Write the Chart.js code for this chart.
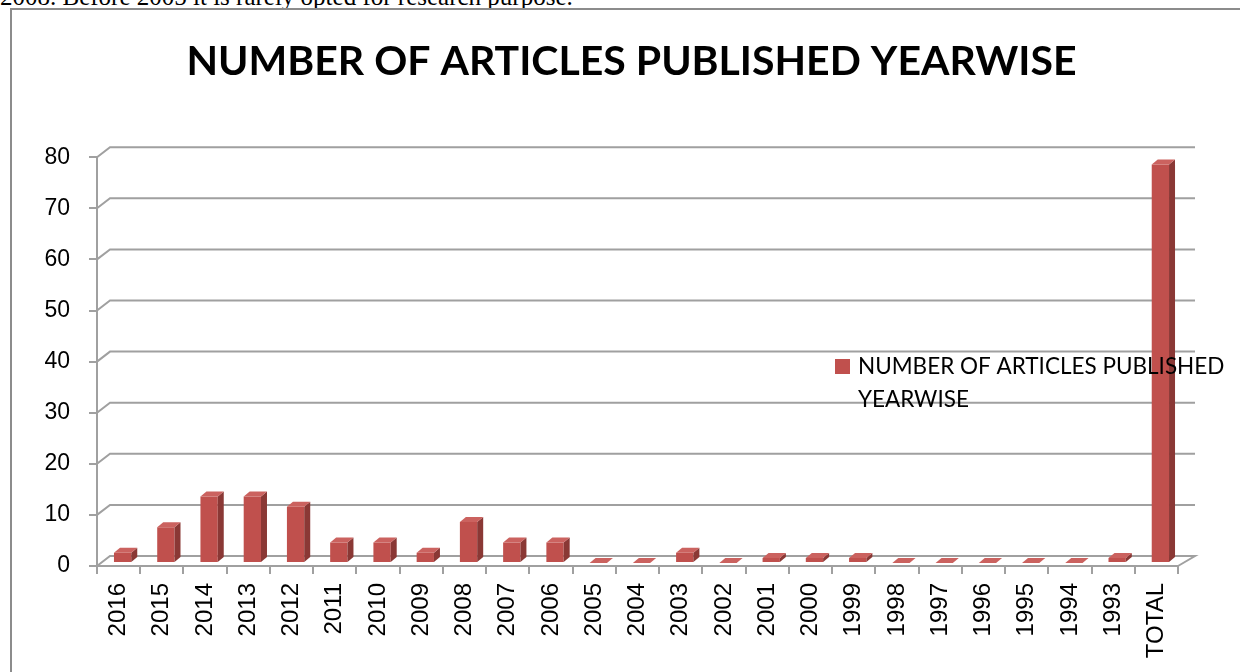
<!DOCTYPE html>
<html>
<head>
<meta charset="utf-8">
<script src="https://cdn.jsdelivr.net/npm/chart.js@4.4.1/dist/chart.umd.min.js"></script>
<style>
  html, body { margin: 0; padding: 0; background: #fff; overflow: hidden; }
  body { width: 1240px; height: 672px; position: relative; }
  .prev { position: absolute; left: 0; top: -16px; font: 25px/25px "Liberation Serif", serif; color: #000; white-space: nowrap; }
  .frame { position: absolute; left: 10px; top: 8px; width: 1300px; height: 700px; border-left: 2px solid #8c8c8c; border-top: 2px solid #8c8c8c; }
  canvas { position: absolute; left: 0; top: 0; }
</style>
</head>
<body>
<div class="prev">2008. Before 2005 it is rarely opted for research purpose.</div>
<div class="frame"></div>
<canvas id="chart" width="1240" height="672"></canvas>
<script>
// datos
const years = ['2016', '2015', '2014', '2013', '2012', '2011', '2010', '2009', '2008', '2007', '2006', '2005',
  '2004', '2003', '2002', '2001', '2000', '1999', '1998', '1997', '1996', '1995', '1994', '1993', 'TOTAL'];
const articles = [2, 7, 13, 13, 11, 4, 4, 2, 8, 4, 4, 0, 0, 2, 0, 1, 1, 1, 0, 0, 0, 0, 0, 1, 78];
const yMax = 80;
const yStep = 10;
const seriesName = 'NUMBER OF ARTICLES PUBLISHED YEARWISE';

const barFront = '#c0504d';
const barTop = '#cb625f';
const barSide = '#8a3835';
const gridColor = '#a0a0a0';

// pared del fondo y caras 3D de las barras
const wall3d = {
  id: 'wall3d',
  afterLayout(chart) {
    // el titulo va centrado un poco a la derecha, como en el original
    if (chart.titleBlock) {
      chart.titleBlock.left = 85;
      chart.titleBlock.right = chart.chartArea.right;
    }
  },
  beforeDatasetsDraw(chart) {
    const { ctx, chartArea: a, scales: { y } } = chart;
    const back = px => px + 13 + 4 * (px - a.left) / (a.right - a.left);
    ctx.save();
    ctx.strokeStyle = gridColor;
    ctx.lineWidth = 2;
    y.ticks.forEach(t => {
      const py = y.getPixelForValue(t.value);
      ctx.beginPath();
      ctx.moveTo(a.left, py);
      ctx.lineTo(back(a.left), py - 10);
      ctx.lineTo(back(a.right), py - 10);
      if (t.value === 0) ctx.lineTo(a.right, py);
      ctx.stroke();
    });
    ctx.restore();
    // las barras van un poco hacia el fondo
    ctx.save();
    ctx.translate(4, -3);
  },
  afterDatasetsDraw(chart) {
    const ctx = chart.ctx;
    const dx = 6, dy = -5;
    chart.getDatasetMeta(0).data.forEach(bar => {
      const { x, y, base, width } = bar.getProps(['x', 'y', 'base', 'width'], true);
      const l = x - width / 2, r = x + width / 2;
      ctx.fillStyle = barSide;
      ctx.beginPath();
      ctx.moveTo(r, y);
      ctx.lineTo(r + dx, y + dy);
      ctx.lineTo(r + dx, base + dy);
      ctx.lineTo(r, base);
      ctx.closePath();
      ctx.fill();
      ctx.fillStyle = barTop;
      ctx.beginPath();
      ctx.moveTo(l, y);
      ctx.lineTo(r, y);
      ctx.lineTo(r + dx, y + dy);
      ctx.lineTo(l + dx, y + dy);
      ctx.closePath();
      ctx.fill();
    });
    ctx.restore();
  },
  afterDraw(chart) {
    // leyenda a la derecha, en dos lineas
    const { ctx, chartArea: a } = chart;
    const ds = chart.data.datasets[0];
    const lx = a.left + 738, ly = 367;
    ctx.save();
    ctx.fillStyle = ds.backgroundColor;
    ctx.fillRect(lx, ly - 8, 15, 15);
    ctx.font = '22.5px Lato';
    ctx.fillStyle = '#000';
    ctx.textBaseline = 'middle';
    const words = ds.label.split(' ');
    const lines = [];
    let cur = '';
    words.forEach(w => {
      const test = cur ? cur + ' ' + w : w;
      if (ctx.measureText(test).width > 380 && cur) { lines.push(cur); cur = w; }
      else cur = test;
    });
    lines.push(cur);
    lines.forEach((s, i) => ctx.fillText(s, lx + 23, ly + i * 33));
    ctx.restore();
  }
};

const ctx = document.getElementById('chart').getContext('2d');
new Chart(ctx, {
  type: 'bar',
  data: {
    labels: years,
    datasets: [{
      label: seriesName,
      data: articles,
      backgroundColor: barFront,
      borderWidth: 0,
      barPercentage: 0.4,
      categoryPercentage: 1
    }]
  },
  options: {
    responsive: false,
    animation: false,
    layout: { padding: { left: 0, right: 62, top: 0, bottom: 0 } },
    plugins: {
      legend: { display: false },
      tooltip: { enabled: false },
      title: {
        display: true,
        text: seriesName,
        color: '#000',
        font: { family: 'Lato', size: 41, weight: 'bold' },
        padding: { top: 37, bottom: 71 }
      }
    },
    scales: {
      x: {
        offset: true,
        grid: { display: true, drawOnChartArea: false, drawTicks: true, tickLength: 8, color: gridColor, lineWidth: 2, offset: true },
        border: { display: true, color: gridColor, width: 2 },
        ticks: {
          autoSkip: false, minRotation: 90, maxRotation: 90, padding: 9,
          color: '#000', font: { family: 'Liberation Sans', size: 24 }
        },
        afterFit: s => { s.height = 106; }
      },
      y: {
        min: 0,
        max: yMax,
        grid: { display: true, drawOnChartArea: false, drawTicks: true, tickLength: 8, color: gridColor, lineWidth: 2 },
        border: { display: true, color: gridColor, width: 2 },
        ticks: {
          stepSize: yStep, padding: 19,
          color: '#000', font: { family: 'Liberation Sans', size: 23 }
        },
        afterFit: s => { s.width = 97; }
      }
    }
  },
  plugins: [wall3d]
});
</script>
</body>
</html>
